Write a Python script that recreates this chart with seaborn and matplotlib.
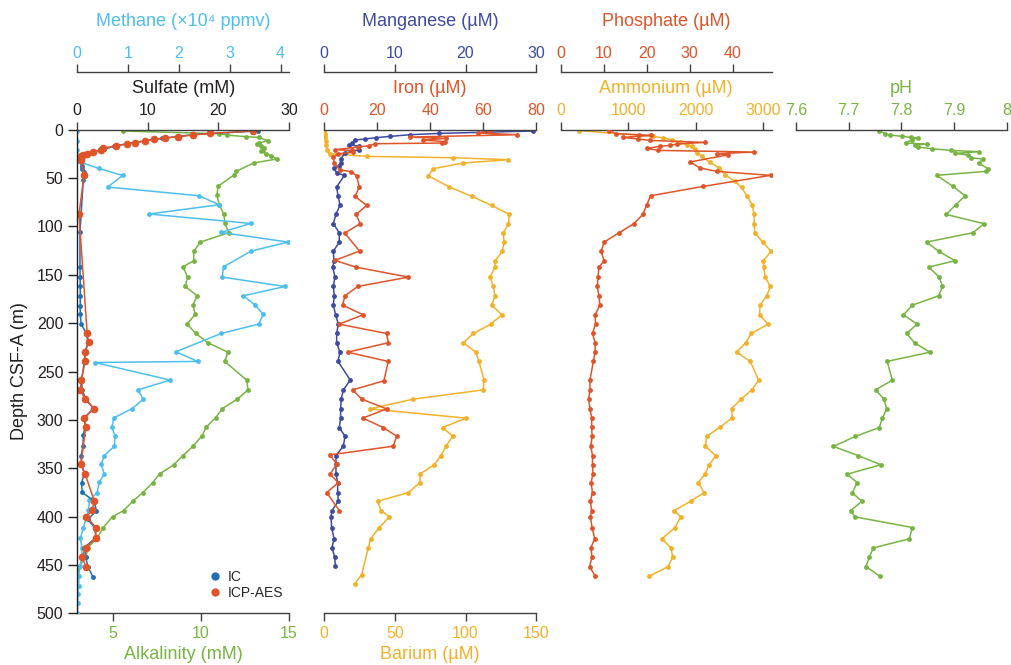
import seaborn as sns
import matplotlib.pyplot as plt
from matplotlib.lines import Line2D

# Depth profiles (depth in m CSF-A)
so4_ic_depth = [1.3, 5, 9, 13, 17, 20.3, 24, 28, 33, 38, 41, 44, 48, 52, 106, 142, 152, 162, 172, 182,
                191, 201, 211, 220, 230, 240, 259, 269, 279, 288, 298, 307, 316, 327, 337, 346, 356, 365, 375, 384,
                394, 403, 412, 422, 432, 442, 452, 462]
so4_ic = [25.6, 16.5, 12.0, 8.3, 5.2, 3.8, 1.6, 0.5, 0.55, 0.6, 0.6, 1.0, 1.1, 0.85, 0.38, 0.38, 0.4, 0.42, 0.42, 0.42,
          0.42, 0.55, 1.3, 1.5, 1.1, 1.0, 0.6, 0.7, 1.2, 2.3, 1.0, 1.1, 0.85, 0.8, 0.55, 0.6, 1.0, 0.6, 0.7, 2.4,
          2.7, 1.5, 2.5, 2.6, 1.0, 1.2, 1.5, 2.2]

so4_icp_depth = [1.4, 3.8, 5.5, 7.2, 8.6, 10, 11.4, 13.4, 14.8, 16.5, 19.3, 21.4, 23, 24.8, 26.2, 27.6, 29.6, 31.4, 47.2, 87.3,
                 210.7, 220, 229.6, 239.6, 258.9, 269, 278.6, 288.3, 297.9, 307.5, 345.5, 355.7, 383.8, 393.7, 400, 411.3,
                 422.4, 432, 442, 451.7]
so4_icp = [24.9, 18.8, 16.4, 14.3, 12.4, 10.8, 9.65, 8.2, 7.05, 5.45, 3.65, 3.3, 2.2, 1.4, 0.85, 0.5, 0.45, 0.5, 0.95, 0.24,
           1.4, 1.6, 1.1, 1.1, 0.57, 0.43, 1.1, 2.4, 1.0, 1.2, 0.52, 1.1, 2.4, 2.1, 1.28, 2.65, 2.6, 1.2, 0.67, 1.23]

ch4_depth = [1.4, 11.4, 21.4, 32.8, 40, 47.3, 59.3, 68.3, 77.6, 87.2, 96.9, 106.2, 116.2, 125.5, 141.7, 152.4, 162.1, 171.7,
             181.4, 191, 201, 210.7, 229.6, 239.6, 240.7, 258.9, 269, 278.6, 288.3, 297.9, 307.5, 316.2, 327.2, 336.9,
             345.8, 355.9, 364.5, 375.2, 383.1, 393.7, 411.3, 422.4, 432, 441.5, 451, 461.4, 471.3, 480, 489.6, 499.3]
ch4 = [0, 0, 0, 0.02, 0.42, 0.89, 0.6, 2.4, 2.79, 1.41, 3.41, 2.83, 4.15, 3.42, 2.88, 2.85, 4.09, 3.27,
       3.5, 3.66, 3.57, 2.83, 1.94, 2.37, 0.35, 1.83, 1.19, 1.3, 1.08, 0.72, 0.68, 0.74, 0.73, 0.53,
       0.47, 0.53, 0.43, 0.39, 0.24, 0.22, 0.12, 0.06, 0.09, 0.09, 0.05, 0.03, 0.03, 0.01, 0.01, 0.0]

alk_depth = [1.4, 4.1, 5.6, 7.2, 8, 11.4, 13.7, 15.2, 17, 19, 20.7, 22.5, 24.8, 26.9, 30.3, 34.4, 43.1, 46.5, 58.6, 68,
             77.6, 87.2, 96.9, 106.5, 116.2, 125.8, 135.5, 141.7, 152.4, 162.1, 171.7, 181.4, 191, 201, 210.7, 220.3,
             230, 239.6, 258.9, 269, 278.6, 288.3, 297.9, 307.5, 316.2, 327.5, 336.9, 346.6, 355.9, 364.8, 375.2,
             384.1, 393.8, 400, 411.3, 422.4, 432, 442, 451.7, 461.4]
alk = [5.57, 11.05, 11.5, 12.55, 13.3, 13.8, 13.3, 13.2, 13.4, 13.6, 13.55, 13.4, 13.7, 14.0, 14.3, 13.0, 12.0, 11.9, 10.97,
       10.92, 11.05, 11.3, 11.38, 11.58, 9.98, 9.6, 9.6, 8.99, 9.25, 9.12, 9.79, 9.56, 9.68, 9.22, 9.72, 10.4, 11.53,
       11.36, 12.6, 12.68, 12.07, 11.22, 10.84, 10.3, 10.08, 9.55, 8.99, 8.46, 7.66, 7.28, 6.71, 6.14, 5.63, 5.0, 4.47,
       4.12, 3.61, 3.48, 3.1, 3.0]

mn_depth = [1.4, 3.8, 5.2, 6.9, 8.3, 9.6, 10.7, 13.8, 15.5, 17.2, 20.7, 24, 30.3, 34.4, 37.9, 39.6, 44.8, 47.2, 59.3, 68.3,
            77.9, 87.6, 97.2, 106.5, 116.2, 125.8, 135.5, 142, 152.4, 162.1, 171.7, 181.4, 191.4, 201, 210.7, 220.3, 230,
            239.6, 258.9, 269, 278.6, 288.6, 298.2, 307.9, 316.9, 327.2, 336.9, 345.8, 356.2, 364.8, 375.2, 384.1,
            393.8, 400, 411.3, 422.8, 432, 442, 451]
mn = [29.5, 16.3, 12.1, 9.37, 7.3, 5.79, 4.38, 4.0, 3.58, 5.0, 4.95, 3.0, 2.35, 2.35, 2.07, 1.41, 1.79, 2.87, 1.79, 1.98,
      2.26, 1.69, 1.31, 2.16, 2.16, 1.31, 1.41, 1.23, 1.55, 1.31, 1.46, 1.31, 1.65, 2.02, 1.79, 1.79, 2.26, 1.98, 3.72,
      2.73, 2.44, 2.35, 2.35, 2.16, 2.97, 2.73, 1.69, 1.69, 1.69, 1.93, 1.93, 2.02, 1.13, 0.99, 1.08, 1.41, 1.13, 1.51, 1.6]

fe_depth = [1, 3.4, 5.2, 7.6, 9, 10.7, 12.3, 13.8, 14.5, 16.5, 17.9, 20.7, 21.4, 23.4, 24.8, 28.2, 34.4, 41.4, 43.4, 47.6,
            59.3, 69, 78.3, 87.6, 97.2, 106.9, 125.5, 135.1, 142, 152.4, 162.1, 171.7, 181.4, 191.4, 201, 210.7, 220.3,
            230, 239.6, 259.6, 269, 278.6, 288.6, 298.2, 307.9, 316.9, 327.2, 336.2, 345.8, 356.2, 364.8, 375.2, 393.8]
fe = [62.5, 58.1, 72.8, 32.4, 46, 37.4, 45.5, 44.3, 19.2, 17.1, 12.9, 4.1, 10.7, 11.0, 5.4, 3.5, 3.8, 6.0, 10.1, 12.3,
      13.3, 11.7, 16.1, 12.1, 13.6, 7.8, 13.4, 4.1, 11.9, 31.8, 12.7, 7.9, 7.0, 14.8, 5.65, 23.6, 24.2, 8.9, 24.2, 22.6,
      10.8, 14.2, 23.6, 14.6, 22.3, 27.4, 26.1, 2.26, 4.8, 2.26, 5.4, 1.0, 5.8]

ba_depth = [1, 4, 8, 12, 16, 20.7, 24.8, 27.6, 29, 31, 34.4, 40.3, 47.6, 59.3, 69, 78.3, 87.6, 97.2, 106.9, 116.2,
            125.8, 135.5, 142, 152.4, 162.1, 171.7, 181.4, 191.4, 201, 210.7, 220.3, 230, 239.6, 258.9, 269, 278.6,
            288.6, 298.2, 307.9, 316.9, 327.2, 336.9, 346.2, 355.9, 364.8, 375.2, 384.1, 393.8, 400.3, 411.3, 422.8,
            432.4, 460, 469.3]
ba = [0.3, 0.6, 0.9, 1.2, 1.5, 1.9, 4.2, 30.6, 91.4, 130.3, 98.5, 77.2, 73.7, 88.6, 104.6, 118.5, 131, 130.3, 126.7, 127.2,
      126, 121, 120.8, 117.3, 119.7, 120.8, 118.5, 125.6, 118, 105.5, 98.5, 107.2, 109.5, 113.1, 112.6, 63.1, 32.5, 100.4,
      83.9, 90.9, 86.2, 82.7, 78, 67.8, 67.8, 59.6, 37.9, 40.3, 46.2, 39.1, 33, 31.3, 26.6, 21.9]

nh4_depth = [1, 6.9, 8.5, 10.3, 13.1, 15.5, 17.2, 20, 24.1, 27.6, 33.8, 39.6, 46.5, 53.5, 59.7, 68.3, 77.9, 87.6, 97.2,
             106.5, 116.2, 125.8, 135.5, 142, 152.4, 162.1, 171.7, 181.4, 191.4, 201, 210.7, 220.3, 230, 239.6, 258.9,
             269, 278.6, 288.3, 297.9, 307.5, 317.2, 327.5, 336.9, 346.4, 356.2, 364.8, 375.2, 384.1, 393.8, 400.3,
             411.3, 422.8, 432.4, 442, 451.7, 461.7]
nh4 = [276, 1372, 1520, 1644, 1767, 1867, 1941, 1990, 2015, 2089, 2212, 2350, 2434, 2582, 2681, 2756, 2839, 2864, 2868,
       2874, 2993, 3116, 3001, 3007, 3031, 3105, 3052, 2953, 2948, 3071, 2824, 2741, 2607, 2809, 2933, 2830, 2671, 2533,
       2542, 2360, 2163, 2142, 2296, 2201, 2138, 2039, 2123, 1926, 1683, 1778, 1693, 1501, 1634, 1659, 1590, 1313]

po4_depth = [1, 4.1, 5.2, 5.9, 7.9, 9.6, 11.1, 13.1, 14.8, 16.2, 17.2, 19.3, 21.4, 23.1, 24.8, 25.9, 33.4, 39.6, 43.1,
             47.2, 58.6, 68.3, 77.9, 87.6, 97.2, 106.5, 116.2, 125.8, 135.5, 142, 152.4, 162.1, 171.7, 181.4, 191.4,
             201, 210.7, 220.3, 230, 239.6, 258.9, 269, 278.6, 288.3, 297.9, 307.5, 317.2, 327.5, 336.9, 346.4,
             356.2, 364.8, 375.2, 384.1, 393.8, 400.3, 411.3, 422.8, 432.4, 442, 451.7, 461.7]
po4 = [11.3, 12.9, 18.3, 21.0, 14.6, 17.9, 20.8, 33.6, 27.0, 25.4, 23.1, 20.0, 22.7, 45.0, 36.3, 39.0, 30.1, 32.4, 36.3,
       48.8, 33.2, 20.9, 20.0, 19.1, 17.0, 13.6, 10.1, 9.4, 10.1, 8.9, 8.67, 8.5, 8.9, 9.1, 8.0, 8.1, 7.4, 8.0, 8.0,
       7.6, 6.8, 6.8, 6.5, 6.8, 7.2, 7.2, 7.3, 7.0, 7.4, 7.4, 7.5, 7.05, 7.4, 6.9, 7.2, 6.9, 7.3, 7.9, 7.0, 7.3, 6.7, 8.05]

ph_depth = [1, 4.1, 5.5, 6.9, 8, 8.3, 10.3, 13.8, 14.8, 15.9, 17.9, 19.7, 21.4, 22.8, 24.5, 26.2, 29, 30.3, 34.4, 40.3,
            43.1, 47.2, 58.6, 68.3, 77.9, 87.6, 97.2, 106.5, 116.2, 125.8, 135.5, 142, 152.4, 162.1, 171.7, 181.4,
            191.4, 201, 210.7, 220.3, 230, 239.6, 258.9, 269, 278.6, 288.6, 298.2, 307.9, 317.2, 327.5, 336.9, 346.4,
            356.2, 364.8, 375.5, 384.1, 393.8, 400.3, 411.3, 423, 432.4, 442, 451.7, 461.7]
ph = [7.757, 7.769, 7.778, 7.802, 7.818, 7.832, 7.82, 7.809, 7.848, 7.826, 7.831, 7.859, 7.895, 7.948, 7.902, 7.927,
      7.932, 7.955, 7.947, 7.964, 7.96, 7.867, 7.898, 7.921, 7.903, 7.885, 7.957, 7.936, 7.848, 7.871, 7.902, 7.852,
      7.872, 7.878, 7.871, 7.821, 7.804, 7.83, 7.81, 7.825, 7.854, 7.773, 7.783, 7.751, 7.767, 7.772, 7.764, 7.758,
      7.712, 7.671, 7.718, 7.761, 7.697, 7.716, 7.707, 7.725, 7.704, 7.712, 7.821, 7.815, 7.747, 7.739, 7.733, 7.759]

depth_ticks = list(range(0, 501, 50))

# colours
C_METH = "#4dbfee"
C_IC = "#1f6fb6"
C_RED = "#e0542a"
C_ALK = "#78b443"
C_MN = "#3f4aa3"
C_AMB = "#f2b12a"
C_AX = "#404040"
C_TXT = "#231f20"

sns.set_style("ticks")
plt.rcParams["font.family"] = ["Liberation Sans", "DejaVu Sans"]

W, H = 1012, 665
fig = plt.figure(figsize=(W / 100, H / 100), dpi=100)


def panel(x0, x1):
    return fig.add_axes([x0 / W, 1 - 613.3 / H, (x1 - x0) / W, (613.3 - 129.7) / H])


def draw(ax, x, depth, color, ms=4, lw=1.1):
    sns.lineplot(x=x, y=depth, sort=False, estimator=None, color=color, marker="o",
                 markersize=ms, markeredgewidth=0, linewidth=lw, ax=ax)


def setup(ax, side, color, lim, ticks, label, pad=2.5, labelpad=7.3, offset=0, ticklabels=None):
    for s in ["top", "bottom", "left", "right"]:
        ax.spines[s].set_visible(False)
    ax.spines[side].set_visible(True)
    ax.spines[side].set_color(C_AX)
    ax.spines[side].set_linewidth(1.0)
    if offset:
        ax.spines[side].set_position(("outward", offset))
    ax.xaxis.set_ticks_position(side)
    ax.xaxis.set_label_position(side)
    ax.set_xlim(*lim)
    ax.set_xticks(ticks)
    if ticklabels:
        ax.set_xticklabels(ticklabels)
    ax.tick_params(axis="x", colors=C_AX, labelcolor=color, length=6, width=1.0,
                   labelsize=11.5, pad=pad, direction="out")
    ax.set_xlabel(label, color=color, fontsize=13, labelpad=labelpad)
    ax.set_ylim(500, 0)
    ax.set_ylabel("")
    ax.tick_params(axis="y", left=False, labelleft=False, right=False, labelright=False)


OUT = 41.3  # outward offset of the upper x axes, in points

# ---- panel 1: sulfate / methane / alkalinity ----
ax1 = panel(77.3, 289)
ax1b = ax1.twiny()
ax1c = ax1.twiny()
draw(ax1b, alk, alk_depth, C_ALK, ms=3.5)
draw(ax1c, ch4, ch4_depth, C_METH, ms=3.5)
draw(ax1, so4_ic, so4_ic_depth, C_IC, ms=3.5)
draw(ax1, so4_icp, so4_icp_depth, C_RED, ms=5.5)
ax1.set_zorder(3)
ax1.patch.set_visible(False)
setup(ax1, "top", C_TXT, (0, 30), [0, 10, 20, 30], "Sulfate (mM)")
setup(ax1b, "bottom", C_ALK, (3, 15), [5, 10, 15], "Alkalinity (mM)", pad=3, labelpad=3.5)
setup(ax1c, "top", C_METH, (0, 4.166), [0, 1, 2, 3, 4], "Methane (×10⁴ ppmv)", labelpad=13.8, offset=OUT)
ax1.spines["left"].set_visible(True)
ax1.spines["left"].set_color(C_TXT)
ax1.spines["left"].set_linewidth(1.0)
ax1.set_yticks(depth_ticks)
ax1.tick_params(axis="y", left=True, labelleft=True, length=6.5, width=1.0, colors=C_TXT,
                labelsize=11.5, pad=3.5)
ax1.set_ylabel("Depth CSF-A (m)", color=C_TXT, fontsize=13, labelpad=6)

handles = [Line2D([], [], marker="o", ls="", color=C_IC, markersize=5),
           Line2D([], [], marker="o", ls="", color=C_RED, markersize=5)]
ax1.legend(handles, ["IC", "ICP-AES"], loc="upper left", bbox_to_anchor=(0.6, 0.102), frameon=False,
           fontsize=10, handlelength=0.8, handletextpad=0.5, labelspacing=0.2, borderaxespad=0)

# ---- panel 2: iron / manganese / barium ----
ax2 = panel(324, 536.3)
ax2b = ax2.twiny()
ax2c = ax2.twiny()
draw(ax2b, ba, ba_depth, C_AMB, ms=3.5)
draw(ax2c, mn, mn_depth, C_MN, ms=3.5)
draw(ax2, fe, fe_depth, C_RED, ms=3.5)
ax2.set_zorder(3)
ax2.patch.set_visible(False)
setup(ax2, "top", C_RED, (0, 80), [0, 20, 40, 60, 80], "Iron (µM)")
setup(ax2b, "bottom", C_AMB, (0, 150), [0, 50, 100, 150], "Barium (µM)", pad=3, labelpad=3.5)
setup(ax2c, "top", C_MN, (0, 30), [0, 10, 20, 30], "Manganese (µM)", labelpad=13.8, offset=OUT)

# ---- panel 3: ammonium / phosphate ----
ax3 = panel(560.7, 771.7)
ax3b = ax3.twiny()
draw(ax3, nh4, nh4_depth, C_AMB, ms=3.5)
draw(ax3b, po4, po4_depth, C_RED, ms=3.5)
setup(ax3, "top", C_AMB, (0, 3126), [0, 1000, 2000, 3000], "Ammonium (µM)")
setup(ax3b, "top", C_RED, (0, 49.07), [0, 10, 20, 30, 40], "Phosphate (µM)", labelpad=13.8, offset=OUT)

# ---- panel 4: pH ----
ax4 = panel(796, 1006.7)
draw(ax4, ph, ph_depth, C_ALK, ms=3.5)
setup(ax4, "top", C_ALK, (7.6, 8.0), [7.6, 7.7, 7.8, 7.9, 8.0], "pH",
      ticklabels=["7.6", "7.7", "7.8", "7.9", "8"])

fig.savefig("out.png", dpi=100)
